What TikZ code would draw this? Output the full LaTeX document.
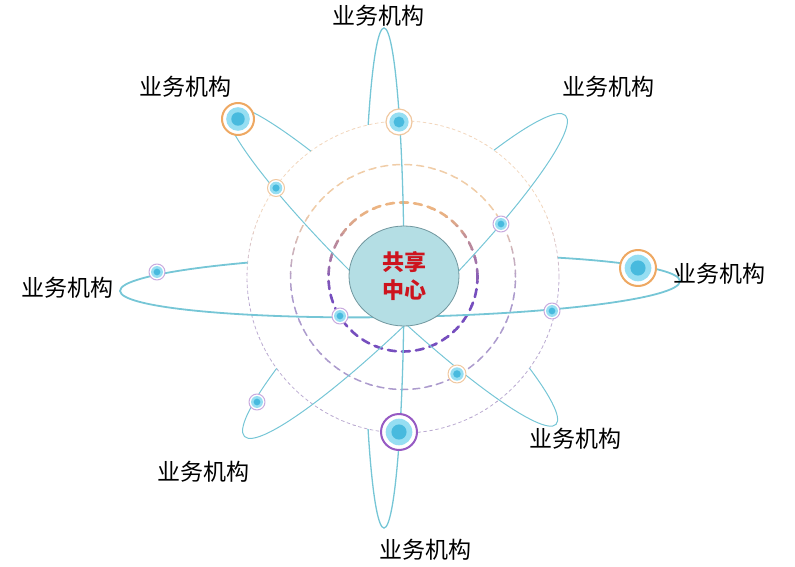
\documentclass[tikz,border=0pt]{standalone}
\usepackage{fontspec}
\newfontfamily\cjk{Noto Sans CJK SC}
\usetikzlibrary{shapes.geometric}

\definecolor{orbit}{RGB}{118,198,214}
\definecolor{hubfill}{RGB}{180,222,228}
\definecolor{hubline}{RGB}{112,150,158}
\definecolor{hubtext}{RGB}{205,20,30}
\definecolor{ringorange}{RGB}{238,168,98}
\definecolor{ringpale}{RGB}{240,200,160}
\definecolor{ringpurple}{RGB}{150,90,195}
\definecolor{ringlilac}{RGB}{200,170,222}
\definecolor{glow}{RGB}{150,222,242}
\definecolor{core}{RGB}{72,186,222}
\definecolor{topA}{RGB}{236,180,130}
\definecolor{botA}{RGB}{118,78,190}
\definecolor{topB}{RGB}{240,205,168}
\definecolor{botB}{RGB}{172,155,205}
\definecolor{topC}{RGB}{242,215,190}
\definecolor{botC}{RGB}{188,172,210}

\tikzset{
  orbitline/.style={draw=orbit,line width=1pt},
  hub/.style={ellipse,draw=hubline,fill=hubfill,line width=0.8pt,minimum width=110pt,minimum height=100pt,
    inner sep=0pt,align=center,text=hubtext,font=\cjk\bfseries\fontsize{22}{28}\selectfont},
  org/.style={font=\cjk\fontsize{23}{28}\selectfont,inner sep=0pt},
  satring/.style={circle,fill=white,inner sep=0pt},
  ringA/.style={line width=2.6pt,dash pattern=on 8pt off 6pt},
  ringB/.style={line width=1.5pt,dash pattern=on 7pt off 5pt},
  ringC/.style={line width=0.8pt,dash pattern=on 3pt off 3pt},
}

\newcommand{\sat}[5]{%
  \node[satring,draw=#4,line width=#5,minimum size={2*#3}] (#1) at (#2) {};
  \fill[glow] (#1) circle ({0.74*#3});
  \fill[core] (#1) circle ({0.42*#3});
}

\begin{document}
\begin{tikzpicture}[x=1pt,y=1pt,line join=round,line cap=round]
  \useasboundingbox (0,0) rectangle (795,-567);

  \foreach \k in {0,...,39}{
    \pgfmathtruncatemacro{\pct}{max(0,min(100,(156-8*\k+10)/0.8))}
    \begin{scope}
      \clip (240,{-121-8*\k}) rectangle (566,{-129-8*\k});
      \draw[ringC,draw=topC!\pct!botC] (403,-277) circle (156);
      \draw[ringB,draw=topB!\pct!botB] (403,-277) circle (112.5);
      \draw[ringA,draw=topA!\pct!botA] (403,-277) circle (74.5);
    \end{scope}
  }

  \begin{scope}[even odd rule]
    \clip (0,0) -- (795,0) -- (795,-567) -- (0,-567) -- cycle (403,-277) circle (156);
    \draw[orbitline,line width=1.3pt] (384,-28) arc[start angle=90,end angle=270,x radius=20,y radius=250];
    \begin{scope}[shift={(405,-276)},rotate=45]
      \draw[orbitline] (227,0) arc[start angle=0,end angle=180,x radius=227,y radius=35];
    \end{scope}
    \begin{scope}[shift={(392,-266)},rotate=-44]
      \draw[orbitline] (228,0) arc[start angle=0,end angle=180,x radius=228,y radius=33];
    \end{scope}
    \begin{scope}[shift={(400,-286)},rotate=1]
      \draw[orbitline,line width=1.8pt] (280,0) arc[start angle=0,end angle=180,x radius=280,y radius=31];
    \end{scope}
  \end{scope}

  \draw[orbitline,line width=1.3pt] (384,-528) arc[start angle=-90,end angle=90,x radius=20,y radius=250];
  \begin{scope}[shift={(405,-276)},rotate=45]
    \draw[orbitline] (-227,0) arc[start angle=180,end angle=360,x radius=227,y radius=35];
  \end{scope}
  \begin{scope}[shift={(392,-266)},rotate=-44]
    \draw[orbitline] (-228,0) arc[start angle=180,end angle=360,x radius=228,y radius=33];
  \end{scope}
  \begin{scope}[shift={(400,-286)},rotate=1]
    \draw[orbitline,line width=1.8pt] (-280,0) arc[start angle=180,end angle=360,x radius=280,y radius=31];
  \end{scope}

  \node[hub] (hub) at (404,-276) {共享\\中心};

  \sat{s1}{399,-122}{13}{ringpale}{1.2pt}
  \sat{s2}{238,-119}{16}{ringorange}{2pt}
  \sat{s3}{276,-188}{8.5}{ringpale}{1pt}
  \sat{s4}{501,-224}{8}{ringlilac}{1pt}
  \sat{s5}{638,-268}{18}{ringorange}{2pt}
  \sat{s6}{552,-311}{8}{ringlilac}{1pt}
  \sat{s7}{340,-316}{8}{ringlilac}{1pt}
  \sat{s8}{157,-272}{8}{ringlilac}{1pt}
  \sat{s9}{457,-374}{9}{ringpale}{1pt}
  \sat{s10}{257,-402}{8}{ringlilac}{1pt}
  \sat{s11}{399,-432}{18}{ringpurple}{2pt}

  \node[org] (lab1) at (378,-16) {业务机构};
  \node[org] (lab2) at (185,-87) {业务机构};
  \node[org] (lab3) at (608,-87) {业务机构};
  \node[org] (lab4) at (67,-288) {业务机构};
  \node[org] (lab5) at (719,-274) {业务机构};
  \node[org] (lab6) at (203,-472) {业务机构};
  \node[org] (lab7) at (575,-439) {业务机构};
  \node[org] (lab8) at (425,-550) {业务机构};
\end{tikzpicture}
\end{document}
